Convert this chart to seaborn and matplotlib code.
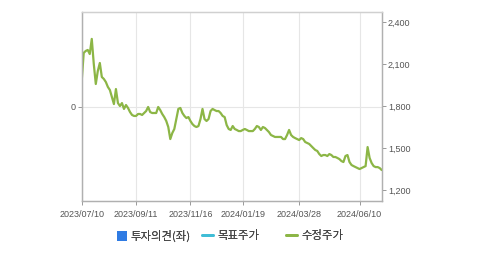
import matplotlib
matplotlib.use("Agg")
import matplotlib.pyplot as plt
import seaborn as sns
import pandas as pd
from matplotlib.lines import Line2D
from matplotlib.patches import Patch

# ---- data ----
prices = [
    1979, 2179, 2193, 2200, 2171, 2279, 2100, 1957, 2050, 2107,
    2007, 1993, 1971, 1936, 1914, 1864, 1814, 1921, 1821, 1800,
    1821, 1779, 1807, 1786, 1757, 1736, 1729, 1729, 1743, 1743,
    1736, 1750, 1764, 1793, 1757, 1750, 1750, 1750, 1793, 1771,
    1743, 1721, 1693, 1650, 1564, 1607, 1636, 1707, 1779, 1786,
    1750, 1729, 1714, 1721, 1693, 1671, 1657, 1650, 1657, 1707,
    1779, 1707, 1693, 1707, 1764, 1779, 1771, 1764, 1764, 1750,
    1729, 1721, 1664, 1636, 1629, 1657, 1636, 1629, 1621, 1621,
    1629, 1636, 1629, 1621, 1621, 1621, 1636, 1657, 1650, 1629,
    1650, 1643, 1629, 1614, 1593, 1586, 1579, 1579, 1579, 1579,
    1564, 1564, 1593, 1629, 1593, 1579, 1571, 1564, 1557, 1571,
    1564, 1543, 1536, 1529, 1514, 1500, 1486, 1479, 1457, 1443,
    1450, 1450, 1443, 1457, 1450, 1436, 1436, 1429, 1421, 1407,
    1400, 1443, 1450, 1400, 1379, 1371, 1364, 1357, 1350, 1357,
    1364, 1371, 1507, 1429, 1393, 1371, 1364, 1364, 1357, 1343,
]
tick_labels = ["2023/07/10", "2023/09/11", "2023/11/16", "2024/01/19", "2024/03/28", "2024/06/10"]
tick_index = [0, 27, 54, 80, 108, 138]
right_ticks = [1200, 1500, 1800, 2100, 2400]
left_ticks = [0]
legend_labels = ["투자의견(좌)", "목표주가", "수정주가"]

df = pd.DataFrame({"idx": range(len(prices)), "price": prices})

sns.set_theme(style="white")
plt.rcParams["font.family"] = ["Liberation Sans", "DejaVu Sans"]

fig = plt.figure(figsize=(4.79, 2.54), dpi=100)
ax = fig.add_axes([81.7 / 479, 1 - 200.7 / 254, 300 / 479, 188.7 / 254])
ax2 = ax.twinx()

GREEN = "#8cb646"
sns.lineplot(data=df, x="idx", y="price", ax=ax2, color=GREEN, linewidth=1.6)

ax.set_xlim(0, len(prices) - 1)
ax.set_ylim(-0.4966, 0.5034)
ax2.set_ylim(1124, 2471)

ax.set_xticks(tick_index)
ax.set_xticklabels(tick_labels)
ax.set_yticks(left_ticks)
ax.set_yticklabels([str(v) for v in left_ticks])
ax2.set_yticks(right_ticks)
ax2.set_yticklabels([f"{v:,}" for v in right_ticks])
for a in (ax, ax2):
    a.set_xlabel("")
    a.set_ylabel("")

ax.grid(True, color="#e6e6e6", linewidth=0.8)
ax2.grid(False)
ax.set_axisbelow(True)

for a in (ax, ax2):
    for s in a.spines.values():
        s.set_color("#b0b0b0")
        s.set_linewidth(0.9)
    a.spines["top"].set_color("#d0d0d0")

tick_kw = dict(labelsize=6.5, labelcolor="#555555", color="#999999", length=3, width=0.7, pad=1.5)
ax.tick_params(axis="x", bottom=True, direction="out", **tick_kw)
ax.tick_params(axis="y", left=True, direction="out", **tick_kw)
ax2.tick_params(axis="y", right=True, direction="out", **tick_kw)
ax.tick_params(axis="x", pad=4)

# legend
kr = ["Noto Sans CJK KR", "DejaVu Sans"]
handles = [
    Patch(facecolor="#2f7be3", edgecolor="none"),
    Line2D([0], [0], color="#3fbdd6", linewidth=2),
    Line2D([0], [0], color=GREEN, linewidth=2),
]
positions = [117 / 479, 202 / 479, 286 / 479]
for h, lab, xp in zip(handles, legend_labels, positions):
    lg = fig.legend(handles=[h], labels=[lab], loc="center left",
                    bbox_to_anchor=(xp, 1 - 236 / 254), frameon=False,
                    borderpad=0, borderaxespad=0,
                    handlelength=1.0 if isinstance(h, Line2D) else 0.85,
                    handleheight=0.85, handletextpad=0.35,
                    prop={"family": kr, "size": 8.2})
    for t in lg.get_texts():
        t.set_color("#444444")
    fig.add_artist(lg)

fig.savefig("out.png", dpi=100, facecolor="white")
